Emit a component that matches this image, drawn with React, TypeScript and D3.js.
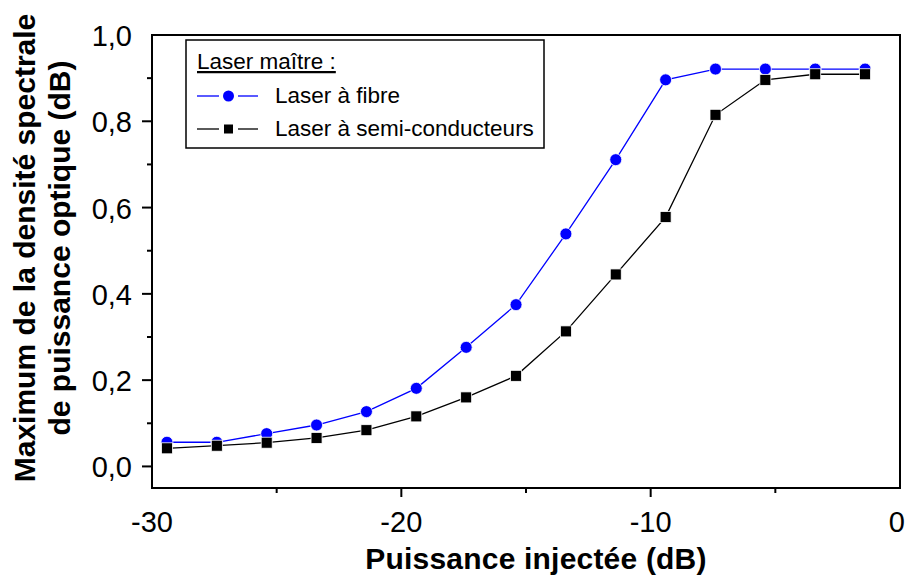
import React from "react";
import * as d3 from "d3";

const xValues = [-29.4, -27.4, -25.4, -23.4, -21.4, -19.4, -17.4, -15.4, -13.4, -11.4, -9.4, -7.4, -5.4, -3.4, -1.4];
const fibreValues = [0.056, 0.056, 0.076, 0.096, 0.127, 0.181, 0.276, 0.375, 0.539, 0.711, 0.896, 0.921, 0.921, 0.921, 0.921];
const semiValues = [0.042, 0.048, 0.055, 0.066, 0.084, 0.116, 0.160, 0.210, 0.313, 0.445, 0.578, 0.815, 0.896, 0.909, 0.909];
const xMajorTicks = [-20, -10];
const xTickLabels = [-30, -20, -10, 0];
const xMinorTicks = [-25, -15, -5];
const yMajorTicks = [0, 0.2, 0.4, 0.6, 0.8];
const yTickLabels = [0, 0.2, 0.4, 0.6, 0.8, 1.0];
const yMinorTicks = [0.1, 0.3, 0.5, 0.7, 0.9];
const legendTitle = "Laser maître :";
const seriesNames = ["Laser à fibre", "Laser à semi-conducteurs"];
const xTitle = "Puissance injectée (dB)";
const yTitle = ["Maximum de la densité spectrale", "de puissance optique (dB)"];

const W = 906, H = 579;
const L = 152, R = 900, T = 35, B = 488;
const FONT = "'Liberation Sans', Arial, sans-serif";

export default function App() {
  const x = d3.scaleLinear().domain([-30, 0]).range([L, R]);
  const y = d3.scaleLinear().domain([-0.05, 1.0]).range([B, T]);
  const fmt = (v: number) => v.toFixed(1).replace(".", ",");
  const line = d3.line<number>().x((_, i) => x(xValues[i])).y((d) => y(d));
  const sq = 11;
  return (
    <svg width={W} height={H} style={{ position: "absolute", left: 0, top: 0, background: "#fff" }} fontFamily={FONT}>
      <rect x={0} y={0} width={W} height={H} fill="#fff" />
      {/* ticks */}
      {xMajorTicks.map((t) => (
        <line key={"xM" + t} x1={x(t)} x2={x(t)} y1={B} y2={B + 9} stroke="#000" strokeWidth={2} />
      ))}
      {xMinorTicks.map((t) => (
        <line key={"xm" + t} x1={x(t)} x2={x(t)} y1={B} y2={B + 5} stroke="#000" strokeWidth={2} />
      ))}
      {yMajorTicks.map((t) => (
        <line key={"yM" + t} x1={L - 10} x2={L} y1={y(t)} y2={y(t)} stroke="#000" strokeWidth={2} />
      ))}
      {yMinorTicks.map((t) => (
        <line key={"ym" + t} x1={L - 5} x2={L} y1={y(t)} y2={y(t)} stroke="#000" strokeWidth={2} />
      ))}
      {xTickLabels.map((t) => (
        <text
          key={"xl" + t}
          x={t === 0 ? W - 1 : x(t)}
          y={532}
          fontSize={29}
          textAnchor={t === 0 ? "end" : "middle"}
        >
          {String(t)}
        </text>
      ))}
      {yTickLabels.map((t) => (
        <text key={"yl" + t} x={132} y={y(t) + 11} fontSize={29} textAnchor="end">
          {fmt(t)}
        </text>
      ))}
      {/* frame */}
      <rect x={L} y={T} width={R - L} height={B - T} fill="none" stroke="#000" strokeWidth={2} />
      {/* series fibre */}
      <path d={line(fibreValues) || ""} fill="none" stroke="#0000ff" strokeWidth={1.3} />
      {fibreValues.map((v, i) => (
        <circle key={"c" + i} cx={x(xValues[i])} cy={y(v)} r={6} fill="#0000ff" stroke="#fff" strokeWidth={0.8} />
      ))}
      {/* series semi */}
      <path d={line(semiValues) || ""} fill="none" stroke="#000" strokeWidth={1.3} />
      {semiValues.map((v, i) => (
        <rect key={"s" + i} x={x(xValues[i]) - sq / 2} y={y(v) - sq / 2} width={sq} height={sq} fill="#000" stroke="#fff" strokeWidth={0.8} />
      ))}
      {/* legend */}
      <rect x={186} y={40} width={358} height={108} fill="#fff" stroke="#000" strokeWidth={1.5} />
      <text x={197} y={69} fontSize={22.5} textDecoration="underline">{legendTitle}</text>
      <line x1={197} x2={219} y1={96} y2={96} stroke="#0000ff" strokeWidth={1.3} />
      <line x1={238} x2={258} y1={96} y2={96} stroke="#0000ff" strokeWidth={1.3} />
      <circle cx={228.5} cy={96} r={5.5} fill="#0000ff" />
      <text x={275} y={103} fontSize={22.5}>{seriesNames[0]}</text>
      <line x1={197} x2={219} y1={129} y2={129} stroke="#000" strokeWidth={1.3} />
      <line x1={238} x2={258} y1={129} y2={129} stroke="#000" strokeWidth={1.3} />
      <rect x={224} y={124.5} width={9} height={9} fill="#000" />
      <text x={275} y={136} fontSize={22.5}>{seriesNames[1]}</text>
      {/* titles */}
      <text x={536} y={569} fontSize={30} fontWeight="bold" textAnchor="middle" letterSpacing={0.2}>{xTitle}</text>
      <text transform="translate(35,248) rotate(-90)" fontSize={30} fontWeight="bold" textAnchor="middle">{yTitle[0]}</text>
      <text transform="translate(70,248) rotate(-90)" fontSize={30} fontWeight="bold" textAnchor="middle">{yTitle[1]}</text>
    </svg>
  );
}
